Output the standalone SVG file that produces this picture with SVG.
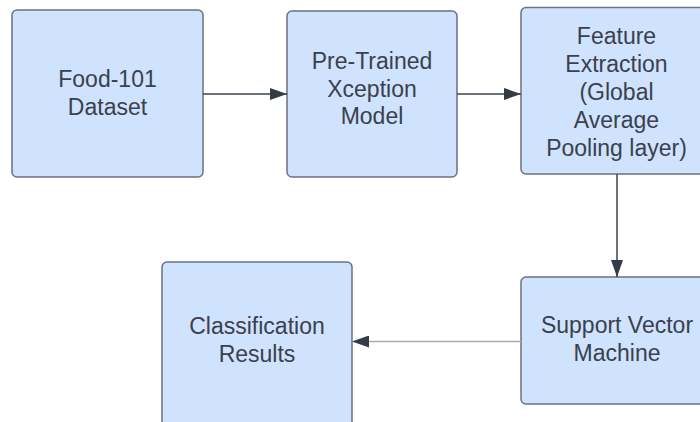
<svg xmlns="http://www.w3.org/2000/svg" width="700" height="422" viewBox="0 0 700 422">
  <defs>
    <marker id="arrow" viewBox="0 0 17 12" refX="17" refY="6" markerWidth="17" markerHeight="12" markerUnits="userSpaceOnUse" orient="auto">
      <path d="M0,0 L17,6 L0,12 Z" fill="#333b47"/>
    </marker>
    <style>
      .box { fill: #cfe3fe; stroke: #6b7280; stroke-width: 1.5; }
      .label { font-family: "Liberation Sans", Arial, sans-serif; font-size: 23px; fill: #3a414c; text-anchor: middle; }
      .link { fill: none; stroke: #3d4450; stroke-width: 1.5; marker-end: url(#arrow); }
      .link.soft { stroke: #a9acb1; }
    </style>
  </defs>
  <rect width="700" height="422" fill="#ffffff"/>

  <g id="food101">
    <rect class="box" x="12" y="10" width="191" height="167" rx="5"/>
    <text class="label" x="107.5" y="87">Food-101</text>
    <text class="label" x="107.5" y="115">Dataset</text>
  </g>

  <g id="xception">
    <rect class="box" x="287" y="11" width="170" height="166" rx="5"/>
    <text class="label" x="372" y="69">Pre-Trained</text>
    <text class="label" x="372" y="97">Xception</text>
    <text class="label" x="372" y="124">Model</text>
  </g>

  <g id="feature-extraction">
    <rect class="box" x="521" y="7.5" width="192" height="166.5" rx="5"/>
    <text class="label" x="616.5" y="44">Feature</text>
    <text class="label" x="616.5" y="72">Extraction</text>
    <text class="label" x="616.5" y="100">(Global</text>
    <text class="label" x="616.5" y="128">Average</text>
    <text class="label" x="616.5" y="156">Pooling layer)</text>
  </g>

  <g id="svm">
    <rect class="box" x="521" y="277" width="192" height="127" rx="5"/>
    <text class="label" x="617" y="333">Support Vector</text>
    <text class="label" x="617" y="361">Machine</text>
  </g>

  <g id="results">
    <rect class="box" x="162" y="262" width="190" height="170" rx="5"/>
    <text class="label" x="257" y="334">Classification</text>
    <text class="label" x="257" y="362">Results</text>
  </g>

  <g id="connectors">
    <line class="link" x1="203" y1="94" x2="287" y2="94"/>
    <line class="link" x1="457" y1="94" x2="521" y2="94"/>
    <line class="link" x1="617" y1="174" x2="617" y2="277"/>
    <line class="link soft" x1="521" y1="341.5" x2="352" y2="341.5"/>
  </g>
</svg>
